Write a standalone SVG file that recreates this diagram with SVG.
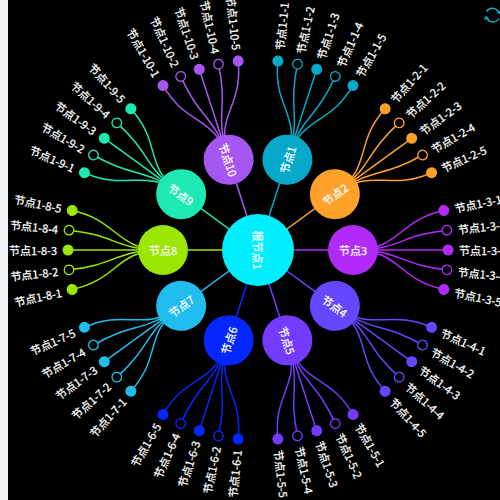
<svg xmlns="http://www.w3.org/2000/svg" width="500" height="500" viewBox="0 0 500 500">
<style>
.k0{fill:#00eeff;stroke:#00eeff}
.k1{fill:#06a9c9;stroke:#06a9c9}
.k2{fill:#fea22b;stroke:#fea22b}
.k3{fill:#b22af7;stroke:#b22af7}
.k4{fill:#6447ff;stroke:#6447ff}
.k5{fill:#733bff;stroke:#733bff}
.k6{fill:#0527ff;stroke:#0527ff}
.k7{fill:#20bdee;stroke:#20bdee}
.k8{fill:#9be603;stroke:#9be603}
.k9{fill:#1ee9b4;stroke:#1ee9b4}
.k10{fill:#a657f2;stroke:#a657f2}
.e{fill:none;stroke-width:1.5}
.h{fill:#000;stroke-width:1.3}
.d{stroke-width:0}
.t{font-family:"Noto Sans CJK SC","Noto Sans",sans-serif;font-size:11px;fill:#fff;stroke:#fff;stroke-width:0.25;dominant-baseline:central}
.r{text-anchor:end}
.m{text-anchor:middle}
</style>
<defs>
<path id="p1" d="M92.92,19.75 C139.39,29.63 142.5,0 190,0"/>
<path id="p2" d="M94.48,9.93 C141.72,14.9 142.5,0 190,0"/>
<path id="p3" d="M95,0 L190,0"/>
<path id="p4" d="M94.48,-9.93 C141.72,-14.9 142.5,0 190,0"/>
<path id="p5" d="M92.92,-19.75 C139.39,-29.63 142.5,0 190,0"/>
</defs>
<rect x="0" y="0" width="500" height="500" fill="#f0f2f5"/>
<rect x="8" y="0" width="492" height="500" fill="#000"/>
<g id="refresh" fill="none" stroke="#0fb5c8" stroke-width="1.4">
<path d="M486.5,11.5 A7,7 0 0 1 499,13"/>
<path d="M499,18.5 A7,7 0 0 1 486.3,17"/>
<path d="M497,10.5 L499.3,13.3 L501,10.5"/>
<path d="M488.5,19.5 L486.2,16.7 L484.5,19.5"/>
</g>
<g id="edges" transform="translate(258 250)">
<line class="k1 e" x1="0" y1="0" x2="95" y2="0" transform="rotate(-72)"/>
<line class="k2 e" x1="0" y1="0" x2="95" y2="0" transform="rotate(-36)"/>
<line class="k3 e" x1="0" y1="0" x2="95" y2="0" transform="rotate(0)"/>
<line class="k4 e" x1="0" y1="0" x2="95" y2="0" transform="rotate(36)"/>
<line class="k5 e" x1="0" y1="0" x2="95" y2="0" transform="rotate(72)"/>
<line class="k6 e" x1="0" y1="0" x2="95" y2="0" transform="rotate(108)"/>
<line class="k7 e" x1="0" y1="0" x2="95" y2="0" transform="rotate(144)"/>
<line class="k8 e" x1="0" y1="0" x2="95" y2="0" transform="rotate(180)"/>
<line class="k9 e" x1="0" y1="0" x2="95" y2="0" transform="rotate(216)"/>
<line class="k10 e" x1="0" y1="0" x2="95" y2="0" transform="rotate(252)"/>
<use href="#p1" class="k1 e" transform="rotate(-84)"/><use href="#p2" class="k1 e" transform="rotate(-78)"/><use href="#p3" class="k1 e" transform="rotate(-72)"/><use href="#p4" class="k1 e" transform="rotate(-66)"/><use href="#p5" class="k1 e" transform="rotate(-60)"/>
<use href="#p1" class="k2 e" transform="rotate(-48)"/><use href="#p2" class="k2 e" transform="rotate(-42)"/><use href="#p3" class="k2 e" transform="rotate(-36)"/><use href="#p4" class="k2 e" transform="rotate(-30)"/><use href="#p5" class="k2 e" transform="rotate(-24)"/>
<use href="#p1" class="k3 e" transform="rotate(-12)"/><use href="#p2" class="k3 e" transform="rotate(-6)"/><use href="#p3" class="k3 e" transform="rotate(0)"/><use href="#p4" class="k3 e" transform="rotate(6)"/><use href="#p5" class="k3 e" transform="rotate(12)"/>
<use href="#p1" class="k4 e" transform="rotate(24)"/><use href="#p2" class="k4 e" transform="rotate(30)"/><use href="#p3" class="k4 e" transform="rotate(36)"/><use href="#p4" class="k4 e" transform="rotate(42)"/><use href="#p5" class="k4 e" transform="rotate(48)"/>
<use href="#p1" class="k5 e" transform="rotate(60)"/><use href="#p2" class="k5 e" transform="rotate(66)"/><use href="#p3" class="k5 e" transform="rotate(72)"/><use href="#p4" class="k5 e" transform="rotate(78)"/><use href="#p5" class="k5 e" transform="rotate(84)"/>
<use href="#p1" class="k6 e" transform="rotate(96)"/><use href="#p2" class="k6 e" transform="rotate(102)"/><use href="#p3" class="k6 e" transform="rotate(108)"/><use href="#p4" class="k6 e" transform="rotate(114)"/><use href="#p5" class="k6 e" transform="rotate(120)"/>
<use href="#p1" class="k7 e" transform="rotate(132)"/><use href="#p2" class="k7 e" transform="rotate(138)"/><use href="#p3" class="k7 e" transform="rotate(144)"/><use href="#p4" class="k7 e" transform="rotate(150)"/><use href="#p5" class="k7 e" transform="rotate(156)"/>
<use href="#p1" class="k8 e" transform="rotate(168)"/><use href="#p2" class="k8 e" transform="rotate(174)"/><use href="#p3" class="k8 e" transform="rotate(180)"/><use href="#p4" class="k8 e" transform="rotate(186)"/><use href="#p5" class="k8 e" transform="rotate(192)"/>
<use href="#p1" class="k9 e" transform="rotate(204)"/><use href="#p2" class="k9 e" transform="rotate(210)"/><use href="#p3" class="k9 e" transform="rotate(216)"/><use href="#p4" class="k9 e" transform="rotate(222)"/><use href="#p5" class="k9 e" transform="rotate(228)"/>
<use href="#p1" class="k10 e" transform="rotate(240)"/><use href="#p2" class="k10 e" transform="rotate(246)"/><use href="#p3" class="k10 e" transform="rotate(252)"/><use href="#p4" class="k10 e" transform="rotate(258)"/><use href="#p5" class="k10 e" transform="rotate(264)"/>
</g>
<g id="nodes" transform="translate(258 250)">
<g id="root"><circle class="k0 d" cx="0" cy="0" r="36"/><text class="t m" x="0" y="0" transform="rotate(90)">根节点1</text></g>
<g id="n1" transform="rotate(-72)"><circle class="k1 d" cx="95" cy="0" r="25"/><text class="t m" x="95" y="0">节点1</text></g>
<g id="n2" transform="rotate(-36)"><circle class="k2 d" cx="95" cy="0" r="25"/><text class="t m" x="95" y="0">节点2</text></g>
<g id="n3" transform="rotate(0)"><circle class="k3 d" cx="95" cy="0" r="25"/><text class="t m" x="95" y="0">节点3</text></g>
<g id="n4" transform="rotate(36)"><circle class="k4 d" cx="95" cy="0" r="25"/><text class="t m" x="95" y="0">节点4</text></g>
<g id="n5" transform="rotate(72)"><circle class="k5 d" cx="95" cy="0" r="25"/><text class="t m" x="95" y="0">节点5</text></g>
<g id="n6" transform="rotate(108)"><circle class="k6 d" cx="95" cy="0" r="25"/><text class="t m" x="95" y="0" transform="rotate(180 95 0)">节点6</text></g>
<g id="n7" transform="rotate(144)"><circle class="k7 d" cx="95" cy="0" r="25"/><text class="t m" x="95" y="0" transform="rotate(180 95 0)">节点7</text></g>
<g id="n8" transform="rotate(180)"><circle class="k8 d" cx="95" cy="0" r="25"/><text class="t m" x="95" y="0" transform="rotate(180 95 0)">节点8</text></g>
<g id="n9" transform="rotate(216)"><circle class="k9 d" cx="95" cy="0" r="25"/><text class="t m" x="95" y="0" transform="rotate(180 95 0)">节点9</text></g>
<g id="n10" transform="rotate(252)"><circle class="k10 d" cx="95" cy="0" r="25"/><text class="t m" x="95" y="0" transform="rotate(180 95 0)">节点10</text></g>

<g id="n1-1-1" transform="rotate(-84)"><circle class="k1 d" cx="190" cy="0" r="5.5"/><text class="t" x="201" y="0">节点1-1-1</text></g>
<g id="n1-1-2" transform="rotate(-78)"><circle class="k1 h" cx="190" cy="0" r="4.8"/><text class="t" x="201" y="0">节点1-1-2</text></g>
<g id="n1-1-3" transform="rotate(-72)"><circle class="k1 d" cx="190" cy="0" r="5.5"/><text class="t" x="201" y="0">节点1-1-3</text></g>
<g id="n1-1-4" transform="rotate(-66)"><circle class="k1 h" cx="190" cy="0" r="4.8"/><text class="t" x="201" y="0">节点1-1-4</text></g>
<g id="n1-1-5" transform="rotate(-60)"><circle class="k1 d" cx="190" cy="0" r="5.5"/><text class="t" x="201" y="0">节点1-1-5</text></g>

<g id="n1-2-1" transform="rotate(-48)"><circle class="k2 d" cx="190" cy="0" r="5.5"/><text class="t" x="201" y="0">节点1-2-1</text></g>
<g id="n1-2-2" transform="rotate(-42)"><circle class="k2 h" cx="190" cy="0" r="4.8"/><text class="t" x="201" y="0">节点1-2-2</text></g>
<g id="n1-2-3" transform="rotate(-36)"><circle class="k2 d" cx="190" cy="0" r="5.5"/><text class="t" x="201" y="0">节点1-2-3</text></g>
<g id="n1-2-4" transform="rotate(-30)"><circle class="k2 h" cx="190" cy="0" r="4.8"/><text class="t" x="201" y="0">节点1-2-4</text></g>
<g id="n1-2-5" transform="rotate(-24)"><circle class="k2 d" cx="190" cy="0" r="5.5"/><text class="t" x="201" y="0">节点1-2-5</text></g>

<g id="n1-3-1" transform="rotate(-12)"><circle class="k3 d" cx="190" cy="0" r="5.5"/><text class="t" x="201" y="0">节点1-3-1</text></g>
<g id="n1-3-2" transform="rotate(-6)"><circle class="k3 h" cx="190" cy="0" r="4.8"/><text class="t" x="201" y="0">节点1-3-2</text></g>
<g id="n1-3-3" transform="rotate(0)"><circle class="k3 d" cx="190" cy="0" r="5.5"/><text class="t" x="201" y="0">节点1-3-3</text></g>
<g id="n1-3-4" transform="rotate(6)"><circle class="k3 h" cx="190" cy="0" r="4.8"/><text class="t" x="201" y="0">节点1-3-4</text></g>
<g id="n1-3-5" transform="rotate(12)"><circle class="k3 d" cx="190" cy="0" r="5.5"/><text class="t" x="201" y="0">节点1-3-5</text></g>

<g id="n1-4-1" transform="rotate(24)"><circle class="k4 d" cx="190" cy="0" r="5.5"/><text class="t" x="201" y="0">节点1-4-1</text></g>
<g id="n1-4-2" transform="rotate(30)"><circle class="k4 h" cx="190" cy="0" r="4.8"/><text class="t" x="201" y="0">节点1-4-2</text></g>
<g id="n1-4-3" transform="rotate(36)"><circle class="k4 d" cx="190" cy="0" r="5.5"/><text class="t" x="201" y="0">节点1-4-3</text></g>
<g id="n1-4-4" transform="rotate(42)"><circle class="k4 h" cx="190" cy="0" r="4.8"/><text class="t" x="201" y="0">节点1-4-4</text></g>
<g id="n1-4-5" transform="rotate(48)"><circle class="k4 d" cx="190" cy="0" r="5.5"/><text class="t" x="201" y="0">节点1-4-5</text></g>

<g id="n1-5-1" transform="rotate(60)"><circle class="k5 d" cx="190" cy="0" r="5.5"/><text class="t" x="201" y="0">节点1-5-1</text></g>
<g id="n1-5-2" transform="rotate(66)"><circle class="k5 h" cx="190" cy="0" r="4.8"/><text class="t" x="201" y="0">节点1-5-2</text></g>
<g id="n1-5-3" transform="rotate(72)"><circle class="k5 d" cx="190" cy="0" r="5.5"/><text class="t" x="201" y="0">节点1-5-3</text></g>
<g id="n1-5-4" transform="rotate(78)"><circle class="k5 h" cx="190" cy="0" r="4.8"/><text class="t" x="201" y="0">节点1-5-4</text></g>
<g id="n1-5-5" transform="rotate(84)"><circle class="k5 d" cx="190" cy="0" r="5.5"/><text class="t" x="201" y="0">节点1-5-5</text></g>

<g id="n1-6-1" transform="rotate(96)"><circle class="k6 d" cx="190" cy="0" r="5.5"/><text class="t r" x="201" y="0" transform="rotate(180 201 0)">节点1-6-1</text></g>
<g id="n1-6-2" transform="rotate(102)"><circle class="k6 h" cx="190" cy="0" r="4.8"/><text class="t r" x="201" y="0" transform="rotate(180 201 0)">节点1-6-2</text></g>
<g id="n1-6-3" transform="rotate(108)"><circle class="k6 d" cx="190" cy="0" r="5.5"/><text class="t r" x="201" y="0" transform="rotate(180 201 0)">节点1-6-3</text></g>
<g id="n1-6-4" transform="rotate(114)"><circle class="k6 h" cx="190" cy="0" r="4.8"/><text class="t r" x="201" y="0" transform="rotate(180 201 0)">节点1-6-4</text></g>
<g id="n1-6-5" transform="rotate(120)"><circle class="k6 d" cx="190" cy="0" r="5.5"/><text class="t r" x="201" y="0" transform="rotate(180 201 0)">节点1-6-5</text></g>

<g id="n1-7-1" transform="rotate(132)"><circle class="k7 d" cx="190" cy="0" r="5.5"/><text class="t r" x="201" y="0" transform="rotate(180 201 0)">节点1-7-1</text></g>
<g id="n1-7-2" transform="rotate(138)"><circle class="k7 h" cx="190" cy="0" r="4.8"/><text class="t r" x="201" y="0" transform="rotate(180 201 0)">节点1-7-2</text></g>
<g id="n1-7-3" transform="rotate(144)"><circle class="k7 d" cx="190" cy="0" r="5.5"/><text class="t r" x="201" y="0" transform="rotate(180 201 0)">节点1-7-3</text></g>
<g id="n1-7-4" transform="rotate(150)"><circle class="k7 h" cx="190" cy="0" r="4.8"/><text class="t r" x="201" y="0" transform="rotate(180 201 0)">节点1-7-4</text></g>
<g id="n1-7-5" transform="rotate(156)"><circle class="k7 d" cx="190" cy="0" r="5.5"/><text class="t r" x="201" y="0" transform="rotate(180 201 0)">节点1-7-5</text></g>

<g id="n1-8-1" transform="rotate(168)"><circle class="k8 d" cx="190" cy="0" r="5.5"/><text class="t r" x="201" y="0" transform="rotate(180 201 0)">节点1-8-1</text></g>
<g id="n1-8-2" transform="rotate(174)"><circle class="k8 h" cx="190" cy="0" r="4.8"/><text class="t r" x="201" y="0" transform="rotate(180 201 0)">节点1-8-2</text></g>
<g id="n1-8-3" transform="rotate(180)"><circle class="k8 d" cx="190" cy="0" r="5.5"/><text class="t r" x="201" y="0" transform="rotate(180 201 0)">节点1-8-3</text></g>
<g id="n1-8-4" transform="rotate(186)"><circle class="k8 h" cx="190" cy="0" r="4.8"/><text class="t r" x="201" y="0" transform="rotate(180 201 0)">节点1-8-4</text></g>
<g id="n1-8-5" transform="rotate(192)"><circle class="k8 d" cx="190" cy="0" r="5.5"/><text class="t r" x="201" y="0" transform="rotate(180 201 0)">节点1-8-5</text></g>

<g id="n1-9-1" transform="rotate(204)"><circle class="k9 d" cx="190" cy="0" r="5.5"/><text class="t r" x="201" y="0" transform="rotate(180 201 0)">节点1-9-1</text></g>
<g id="n1-9-2" transform="rotate(210)"><circle class="k9 h" cx="190" cy="0" r="4.8"/><text class="t r" x="201" y="0" transform="rotate(180 201 0)">节点1-9-2</text></g>
<g id="n1-9-3" transform="rotate(216)"><circle class="k9 d" cx="190" cy="0" r="5.5"/><text class="t r" x="201" y="0" transform="rotate(180 201 0)">节点1-9-3</text></g>
<g id="n1-9-4" transform="rotate(222)"><circle class="k9 h" cx="190" cy="0" r="4.8"/><text class="t r" x="201" y="0" transform="rotate(180 201 0)">节点1-9-4</text></g>
<g id="n1-9-5" transform="rotate(228)"><circle class="k9 d" cx="190" cy="0" r="5.5"/><text class="t r" x="201" y="0" transform="rotate(180 201 0)">节点1-9-5</text></g>

<g id="n1-10-1" transform="rotate(240)"><circle class="k10 d" cx="190" cy="0" r="5.5"/><text class="t r" x="201" y="0" transform="rotate(180 201 0)">节点1-10-1</text></g>
<g id="n1-10-2" transform="rotate(246)"><circle class="k10 h" cx="190" cy="0" r="4.8"/><text class="t r" x="201" y="0" transform="rotate(180 201 0)">节点1-10-2</text></g>
<g id="n1-10-3" transform="rotate(252)"><circle class="k10 d" cx="190" cy="0" r="5.5"/><text class="t r" x="201" y="0" transform="rotate(180 201 0)">节点1-10-3</text></g>
<g id="n1-10-4" transform="rotate(258)"><circle class="k10 h" cx="190" cy="0" r="4.8"/><text class="t r" x="201" y="0" transform="rotate(180 201 0)">节点1-10-4</text></g>
<g id="n1-10-5" transform="rotate(264)"><circle class="k10 d" cx="190" cy="0" r="5.5"/><text class="t r" x="201" y="0" transform="rotate(180 201 0)">节点1-10-5</text></g>
</g>
</svg>
